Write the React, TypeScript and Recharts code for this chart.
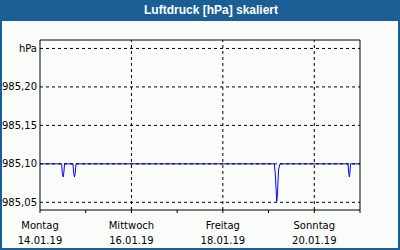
import { LineChart, Line, XAxis, YAxis, ReferenceLine } from 'recharts';

// hours since Monday 14.01.19 00:00
const hours = [0, 11.4, 11.7, 12.2, 12.5, 12.9, 17.3, 17.7, 18.1, 18.5, 18.9, 123.0, 123.5, 124.05, 124.3, 124.7, 125.2, 126.0, 161.7, 162.1, 162.4, 162.7, 163.0, 168];
const pressure = [985.1, 985.1, 985.088, 985.083, 985.088, 985.1, 985.1, 985.088, 985.083, 985.088, 985.1, 985.1, 985.088, 985.062, 985.051, 985.062, 985.092, 985.1, 985.1, 985.088, 985.083, 985.088, 985.1, 985.1];

const xTicks = [0, 24, 48, 72, 96, 120, 144, 168];
const dayNames = ['Montag', '', 'Mittwoch', '', 'Freitag', '', 'Sonntag', ''];
const dayDates = ['14.01.19', '', '16.01.19', '', '18.01.19', '', '20.01.19', ''];
const xGrid = [48, 96, 144];

const yTicks = [985.05, 985.1, 985.15, 985.2, 985.25];
const yDomain = [985.04, 985.261];

const data = hours.map((h, i) => ({ h, p: pressure[i] }));

const font = '"DejaVu Sans", sans-serif';

function DayTick(props: any) {
  const { x, y, payload } = props;
  const i = xTicks.indexOf(payload.value);
  if (i < 0 || !dayNames[i]) return null;
  return (
    <g>
      <text x={x} y={y + 14} textAnchor="middle" fontSize={10} fontFamily={font} fill="#000">
        {dayNames[i]}
      </text>
      <text x={x} y={y + 29} textAnchor="middle" fontSize={10} fontFamily={font} fill="#000">
        {dayDates[i]}
      </text>
    </g>
  );
}

const fmtY = (v: number) => (v > 985.24 ? 'hPa' : v.toFixed(2).replace('.', ','));

export default function App() {
  return (
    <div
      style={{
        position: 'absolute',
        top: 0,
        left: 0,
        width: 400,
        height: 250,
        background: '#fafcfa',
        overflow: 'hidden',
      }}
    >
      <LineChart
        width={400}
        height={250}
        data={data}
        margin={{ top: 40, right: 40, bottom: 0, left: 0 }}
      >
        <XAxis
          dataKey="h"
          type="number"
          domain={[0, 168]}
          ticks={xTicks}
          interval={0}
          tickSize={3}
          tickMargin={2}
          height={40}
          stroke="#000"
          tick={<DayTick />}
          allowDataOverflow
        />
        <YAxis
          type="number"
          domain={yDomain}
          ticks={yTicks}
          interval={0}
          width={40}
          tickLine={false}
          tickSize={0}
          tickMargin={3}
          stroke="#000"
          tickFormatter={fmtY}
          tick={{ fill: '#000', fontSize: 10, fontFamily: font }}
          allowDataOverflow
        />
        <Line
          dataKey="p"
          type="linear"
          stroke="#0000ff"
          strokeWidth={1}
          dot={false}
          isAnimationActive={false}
        />
        {yTicks.map((t) => (
          <ReferenceLine key={'y' + t} y={t} stroke="#000" strokeDasharray="3 3" />
        ))}
        {xGrid.map((t) => (
          <ReferenceLine key={'x' + t} x={t} stroke="#000" strokeDasharray="3 3" />
        ))}
        <ReferenceLine y={yDomain[1]} stroke="#000" />
        <ReferenceLine x={168} stroke="#000" />
      </LineChart>
      <div
        style={{
          position: 'absolute',
          top: 0,
          left: 0,
          width: 400,
          height: 21,
          background: '#1b5e95',
          color: '#fff',
          fontFamily: '"Liberation Sans", Arial, sans-serif',
          fontWeight: 'bold',
          fontSize: 12,
          lineHeight: '21px',
          textAlign: 'center',
          paddingLeft: 22,
          boxSizing: 'border-box',
        }}
      >
        Luftdruck [hPa] skaliert
      </div>
      <div
        style={{
          position: 'absolute',
          top: 0,
          left: 0,
          width: 400,
          height: 250,
          borderLeft: '2px solid #1b5e95',
          borderRight: '2px solid #1b5e95',
          borderBottom: '2px solid #1b5e95',
          boxSizing: 'border-box',
          pointerEvents: 'none',
        }}
      />
    </div>
  );
}
